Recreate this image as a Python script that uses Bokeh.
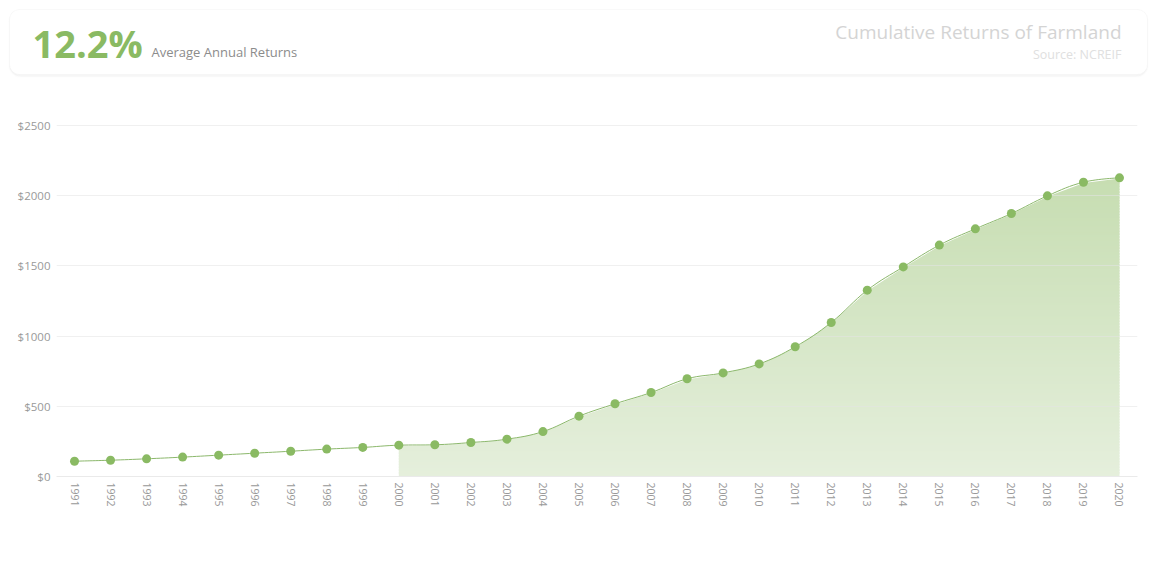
import numpy as np
from bokeh.plotting import figure
from bokeh.layouts import column
from bokeh.models import (Range1d, FixedTicker, PrintfTickFormatter, Label,
                          BoxAnnotation, ColumnDataSource)
from bokeh.embed import file_html
from bokeh.resources import INLINE

# ---------------- data ----------------
years = list(range(1991, 2021))
values = [109, 116, 126, 138, 152, 166, 180, 195, 207, 223,
          226, 242, 266, 320, 430, 518, 598, 696, 738, 802,
          924, 1097, 1327, 1493, 1648, 1764, 1873, 1999, 2096, 2127]
fill_start_year = 2000
y_ticks = [0, 500, 1000, 1500, 2000, 2500]

headline_value = "12.2%"
headline_text = "Average Annual Returns"
chart_title = "Cumulative Returns of Farmland"
chart_source = "Source: NCREIF"

GREEN = "#8aba63"
LINE = "#8cb86c"
FONT = "Open Sans"
W = 1163
HDR_H, MAIN_H = 82, 477

# ---------------- header card ----------------
hdr = figure(width=W, height=HDR_H, output_backend="svg", toolbar_location=None,
             x_range=Range1d(0, W), y_range=Range1d(HDR_H, 0), min_border=0)
hdr.frame_align = False
hdr.axis.visible = False
hdr.grid.visible = False
hdr.outline_line_color = None
hdr.background_fill_color = "white"
hdr.border_fill_color = "white"
hdr.add_layout(BoxAnnotation(left=9, right=1147, top=10, bottom=76,
                             fill_color="#f6f6f6", fill_alpha=1.0,
                             line_color="#f4f4f4", line_width=2, border_radius=11))
hdr.add_layout(BoxAnnotation(left=9, right=1147, top=9, bottom=74,
                             fill_color="white", fill_alpha=1.0,
                             line_color="#ececec", line_width=1, border_radius=10))
hdr.add_layout(Label(x=32, y=42, text=headline_value, text_font=FONT,
                     text_font_size="38px", text_font_style="bold",
                     text_color=GREEN, text_baseline="middle"))
hdr.add_layout(Label(x=151, y=51, text=headline_text, text_font=FONT,
                     text_font_size="13px", text_color="#8c8c8c",
                     text_baseline="middle"))
hdr.add_layout(Label(x=1121, y=31.5, text=chart_title, text_font=FONT,
                     text_font_size="19px", text_color="#d4d4d4",
                     text_align="right", text_baseline="middle"))
hdr.add_layout(Label(x=1121, y=54, text=chart_source, text_font=FONT,
                     text_font_size="12.5px", text_color="#e0e0e0",
                     text_align="right", text_baseline="middle"))

# ---------------- main chart ----------------
# frame spans screen y 124..476 so the top grid line sits fully inside it
y_top = y_ticks[-1] * 352 / 351
p = figure(width=W, height=MAIN_H, output_backend="svg", toolbar_location=None,
           x_range=Range1d(years[0] - 0.5, years[-1] + 0.5),
           y_range=Range1d(y_ticks[0], y_top),
           min_border_left=56, min_border_right=26,
           min_border_top=124 - HDR_H, min_border_bottom=HDR_H + MAIN_H - 476)
p.frame_align = False
p.outline_line_color = None
p.background_fill_color = "white"
p.border_fill_color = "white"
p.xgrid.visible = False
p.ygrid.grid_line_color = "#e4e4e4"
p.ygrid.grid_line_alpha = 0.55
p.ygrid.grid_line_width = 1

p.yaxis.ticker = FixedTicker(ticks=y_ticks)
p.yaxis.formatter = PrintfTickFormatter(format="$%d")
p.yaxis.axis_line_color = None
p.yaxis.major_tick_line_color = None
p.yaxis.minor_tick_line_color = None
p.yaxis.major_label_text_font = FONT
p.yaxis.major_label_text_font_size = "11.5px"
p.yaxis.major_label_text_color = "#999999"
p.yaxis.major_label_standoff = 0

p.xaxis.ticker = FixedTicker(ticks=years)
p.xaxis.major_label_orientation = "vertical"
p.xaxis.axis_line_color = "#eaeaea"
p.xaxis.major_tick_line_color = None
p.xaxis.minor_tick_line_color = None
p.xaxis.major_label_text_font = FONT
p.xaxis.major_label_text_font_size = "10.5px"
p.xaxis.major_label_text_color = "#999999"
p.xaxis.major_label_standoff = 0

# gradient area (from fill_start_year on): gradient bands + white cover above curve
xs = np.array(years, dtype=float)
ys = np.array(values, dtype=float)
mask = xs >= fill_start_year
fx, fy = xs[mask], ys[mask]

bottom_rgb = np.array([229, 239, 220])
top_rgb = np.array([193, 218, 170])
n_bands = 125
edges = np.linspace(y_ticks[0], y_ticks[-1], n_bands + 1)
mids = (edges[:-1] + edges[1:]) / 2 / y_ticks[-1]
keep = edges[:-1] < fy.max()
cols = ["#%02x%02x%02x" % tuple(int(round(c)) for c in bottom_rgb + (top_rgb - bottom_rgb) * t)
        for t in mids[keep]]
overlap = (edges[1] - edges[0]) * 0.6
p.quad(left=fx[0], right=fx[-1], bottom=edges[:-1][keep],
       top=edges[1:][keep] + overlap,
       fill_color=cols, line_color=None, level="image")
cover_x = np.concatenate([fx, [fx[-1], fx[0]]])
cover_y = np.concatenate([fy, [fy.max() + 60, fy.max() + 60]])
p.patch(x=cover_x, y=cover_y, fill_color="white", line_color="white",
        line_width=1.5, level="image")


# smooth line (Highcharts-style spline control points, drawn as Bezier curves)
def spline_controls(x, y, smoothing=1.5):
    n = len(x)
    denom = smoothing + 1
    lx, ly, rx, ry = list(x), list(y), list(x), list(y)
    for i in range(1, n - 1):
        lcx = (smoothing * x[i] + x[i - 1]) / denom
        lcy = (smoothing * y[i] + y[i - 1]) / denom
        rcx = (smoothing * x[i] + x[i + 1]) / denom
        rcy = (smoothing * y[i] + y[i + 1]) / denom
        if rcx != lcx:
            corr = ((rcy - lcy) * (rcx - x[i])) / (rcx - lcx) + y[i] - rcy
            lcy += corr
            rcy += corr
        if lcy > max(y[i - 1], y[i]):
            lcy = max(y[i - 1], y[i]); rcy = 2 * y[i] - lcy
        elif lcy < min(y[i - 1], y[i]):
            lcy = min(y[i - 1], y[i]); rcy = 2 * y[i] - lcy
        if rcy > max(y[i + 1], y[i]):
            rcy = max(y[i + 1], y[i]); lcy = 2 * y[i] - rcy
        elif rcy < min(y[i + 1], y[i]):
            rcy = min(y[i + 1], y[i]); lcy = 2 * y[i] - rcy
        lx[i], ly[i], rx[i], ry[i] = lcx, lcy, rcx, rcy
    return lx, ly, rx, ry


lx, ly, rx, ry = spline_controls(xs, ys)
bez = ColumnDataSource(dict(
    x0=xs[:-1], y0=ys[:-1], x1=xs[1:], y1=ys[1:],
    cx0=rx[:-1], cy0=ry[:-1], cx1=lx[1:], cy1=ly[1:]))
p.bezier(x0="x0", y0="y0", x1="x1", y1="y1", cx0="cx0", cy0="cy0",
         cx1="cx1", cy1="cy1", source=bez, line_color=LINE, line_width=1)
p.scatter(xs, ys, size=9, marker="circle", fill_color=GREEN, line_color=GREEN,
          line_width=0)

# ---------------- footer rule ----------------
ft = figure(width=1147, height=1, output_backend="svg", toolbar_location=None,
            min_border=0, min_border_left=9,
            x_range=Range1d(0, 1), y_range=Range1d(0, 1))
ft.frame_align = False
ft.axis.visible = False
ft.grid.visible = False
ft.outline_line_color = None
ft.background_fill_color = "#efefef"
ft.border_fill_color = "white"

layout = column(hdr, p, ft, spacing=0)
open("out.html", "w").write(file_html(layout, INLINE))
